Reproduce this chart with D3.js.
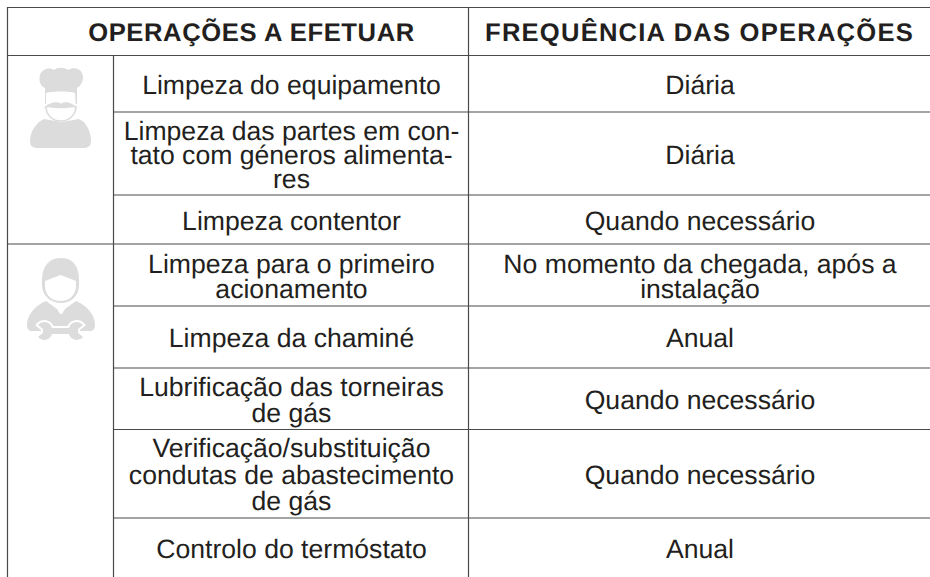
<!DOCTYPE html>
<html>
<head>
<meta charset="utf-8">
<title>Operações de limpeza</title>
<script src="https://cdn.jsdelivr.net/npm/d3@7"></script>
<style>
    html, body { margin: 0; padding: 0; background: #fff; }
    svg { display: block; }
    text { font-family: "Liberation Sans", Arial, sans-serif; fill: #231f20; text-anchor: middle; text-rendering: geometricPrecision; }
</style>
</head>
<body>
<div id="chart"></div>
<script>
// DATA //
const headers = ["OPERAÇÕES A EFETUAR", "FREQUÊNCIA DAS OPERAÇÕES"]

const operations = [
    ["Limpeza do equipamento"],
    ["Limpeza das partes em con-", "tato com géneros alimenta-", "res"],
    ["Limpeza contentor"],
    ["Limpeza para o primeiro", "acionamento"],
    ["Limpeza da chaminé"],
    ["Lubrificação das torneiras", "de gás"],
    ["Verificação/substituição", "condutas de abastecimento", "de gás"],
    ["Controlo do termóstato"],
]

const frequencies = [
    ["Diária"],
    ["Diária"],
    ["Quando necessário"],
    ["No momento da chegada, após a", "instalação"],
    ["Anual"],
    ["Quando necessário"],
    ["Quando necessário"],
    ["Anual"],
]

// which rows belong to which person (chef, technician)
const groupEnds = [3, 8]

// LAYOUT //
const dimensions = { width: 930, height: 577 }
const rowIds = d3.range(operations.length)
const rowEdges = [55.5, 112, 195, 244, 306, 368, 429.5, 518, 577]
const lineHeights = [26, 24, 26, 25, 26, 26, 26.5, 26]
const lineColor = "#4a4a4a"
const iconColor = "#dcdcdc"

const yTop = d3.scaleOrdinal().domain(rowIds).range(rowEdges.slice(0, -1))
const yBottom = d3.scaleOrdinal().domain(rowIds).range(rowEdges.slice(1))
const xCenter = d3.scaleOrdinal().domain(["operation", "frequency"]).range([291.5, 700])

const svg = d3.select("#chart")
    .append("svg")
    .attr("width", dimensions.width)
    .attr("height", dimensions.height)

// GRID LINES //
const hLines = [
    { x1: 7, x2: 930, y: 7.5 },
    { x1: 7, x2: 930, y: 55.5 },
    ...rowIds.slice(0, -1).map(i => ({
        x1: groupEnds.includes(i + 1) ? 7 : 113.5,
        x2: 930,
        y: yBottom(i),
    })),
]
const vLines = [
    { x: 7.5, y1: 7, y2: 577 },
    { x: 113.5, y1: 55.5, y2: 577 },
    { x: 468.5, y1: 7, y2: 577 },
]

svg.selectAll(".h-line").data(hLines)
    .join("line")
    .attr("class", "h-line")
    .attr("x1", d => d.x1)
    .attr("x2", d => d.x2)
    .attr("y1", d => d.y)
    .attr("y2", d => d.y)
    .attr("stroke", lineColor)
    .attr("stroke-width", 1.2)

svg.selectAll(".v-line").data(vLines)
    .join("line")
    .attr("class", "v-line")
    .attr("x1", d => d.x)
    .attr("x2", d => d.x)
    .attr("y1", d => d.y1)
    .attr("y2", d => d.y2)
    .attr("stroke", lineColor)
    .attr("stroke-width", 1.2)

// HEADERS //
svg.selectAll(".header").data(headers)
    .join("text")
    .attr("class", "header")
    .attr("x", (d, i) => [251.5, 699.5][i])
    .attr("y", 41)
    .attr("font-size", 25.6)
    .attr("font-weight", "bold")
    .attr("letter-spacing", (d, i) => [0.6, 1.2][i])
    .text(d => d)

// CELLS //
function drawColumn(name, cells) {
    const rows = svg.selectAll(`.${name}`).data(cells)
        .join("text")
        .attr("class", name)
        .attr("font-size", 26.6)

    rows.selectAll("tspan").data((lines, i) => lines.map((line, k) => ({ line, k, n: lines.length, i })))
        .join("tspan")
        .attr("x", xCenter(name))
        .attr("y", d => {
            const center = (yTop(d.i) + yBottom(d.i)) / 2
            return center + 10 + (d.k - (d.n - 1) / 2) * lineHeights[d.i]
        })
        .text(d => d.line)
}

drawColumn("operation", operations)
drawColumn("frequency", frequencies)

// ICONS //
const chef = svg.append("g").attr("fill", iconColor)
// hat
chef.append("path").attr("d", "M45 88 C39 86 39 78 40 75 C42 69 49 67 54 70 C58 67 64 67 68 70 C73 67 80 68 82 73 C85 79 81 86 77 88 L77 104 L45 104 Z")
// body
chef.append("path").attr("d", "M44 119 L61 122 L62 122 L79 119 C86 122 91 131 91 141 C91 146 88 148 84 148 L37 148 C33 148 30 146 30 141 C30 131 37 122 44 119 Z")
// face
chef.append("path").attr("fill", "#fff").attr("d", "M46 93 C52 91 70 91 75 93 L76 109 C76 116 68 120 61 120 C53 120 46 116 46 109 Z")
chef.append("path").attr("fill", "none").attr("stroke", iconColor).attr("stroke-width", 1.6).attr("d", "M46 106 C46 116 53 121 61 121 C68 121 76 116 76 106")
// mustache
chef.append("path").attr("d", "M44 108 C47 104 55 101 60 103 L61 104 L62 103 C67 101 74 104 77 108 C72 106 68 109 61 108 C54 109 49 106 44 108 Z")

const tech = svg.append("g").attr("fill", iconColor)
// neck and shoulders
tech.append("path").attr("d", "M46 301 L57 309 L60 314 L62 314 L65 309 L76 301 C86 305 95 314 95 325 C95 329 93 331 90 331 L32 331 C29 331 27 329 27 325 C27 314 36 305 46 301 Z")
// head and hair
tech.append("path").attr("stroke", "#fff").attr("stroke-width", 1.5).attr("paint-order", "stroke").attr("d", "M42 280 C42 265 50 258 61 258 C72 258 79 265 79 280 L79 285 C79 296 71 303 61 303 C51 303 42 296 42 285 Z")
// face
tech.append("path").attr("fill", "#fff").attr("d", "M45 281 C50 279 55 277 60.5 275 C66 277 71 279 76 281 L76 286 C76 295 69 301 60.5 301 C52 301 45 295 45 286 Z")
// wrench
const wrenchPath = "M38 325 A8 8 0 0 1 52 328 L69 328 A8 8 0 0 1 83 325 L78 329 L78 333 L83 337 A8 8 0 0 1 69 334 L52 334 A8 8 0 0 1 38 337 L43 333 L43 329 Z"
tech.append("path").attr("d", wrenchPath).attr("fill", "#fff").attr("stroke", "#fff").attr("stroke-width", 4)
tech.append("path").attr("d", wrenchPath)
</script>
</body>
</html>
